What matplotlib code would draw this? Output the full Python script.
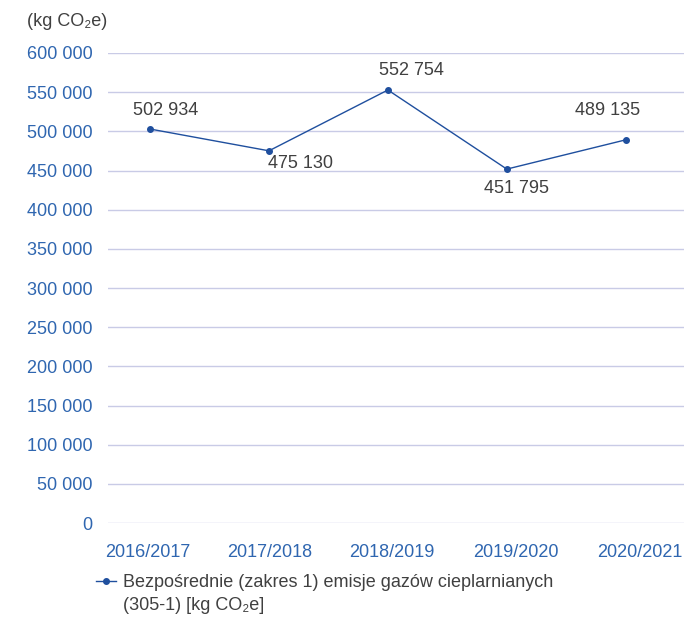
import matplotlib.pyplot as plt
import matplotlib.transforms as mtransforms
from matplotlib.ticker import FuncFormatter

plt.rcParams['font.family'] = ['Liberation Sans', 'DejaVu Sans']

# Dane
lata = ['2016/2017', '2017/2018', '2018/2019', '2019/2020', '2020/2021']
emisje = [502934, 475130, 552754, 451795, 489135]
y_ticks = list(range(0, 600001, 50000))
seria_1 = 'Bezpośrednie (zakres 1) emisje gazów cieplarnianych'
seria_2 = '(305-1) [kg CO₂e]'

niebieski = '#2f66b0'
tekst = '#404040'

fig = plt.figure(figsize=(6.84, 6.19), dpi=100)
ax = fig.add_axes([0.158, 0.155, 0.842, 0.7594])

x = list(range(len(lata)))
ax.plot(x, emisje, color='#1f4f9e', lw=1.0, marker='o', ms=4, label=seria_1)

# Etykiety wartości
offsety = [(16, 19), (32, -13), (24, 20), (10, -19), (-18, 29)]
for xi, v, off in zip(x, emisje, offsety):
    ax.annotate(f'{v:,}'.replace(',', ' '), (xi, v), xytext=off,
                textcoords='offset pixels', ha='center', va='center',
                fontsize=13, color=tekst)

ax.set_xlim(-0.353, 4.49)
ax.set_ylim(0, 600000)
ax.set_yticks(y_ticks)
ax.yaxis.set_major_formatter(FuncFormatter(lambda v, p: f'{int(v):,}'.replace(',', ' ')))
ax.set_xticks(x)
ax.set_xticklabels(lata)

ax.grid(axis='y', color='#c9cbe6', lw=1.0)
ax.set_axisbelow(True)
for s in ax.spines.values():
    s.set_visible(False)
ax.tick_params(axis='both', length=0, labelsize=13, labelcolor=niebieski)
ax.tick_params(axis='y', pad=11)
ax.tick_params(axis='x', pad=15)
# lekkie przesunięcie podpisów osi X jak w oryginale
for lbl, dx in zip(ax.get_xticklabels(), [-2, 1, 4, 9, 14]):
    lbl.set_transform(lbl.get_transform() +
                      mtransforms.ScaledTranslation(dx / 100, 0, fig.dpi_scale_trans))

fig.text(27 / 684, 1 - 22 / 619, '(kg CO₂e)', fontsize=13, color=tekst,
         va='center', ha='left')

leg = ax.legend(loc='upper left', bbox_to_anchor=(-0.036, -0.09), frameon=False,
                fontsize=13, handlelength=1.1, handletextpad=0.35, borderpad=0)
for t in leg.get_texts():
    t.set_color(tekst)
# druga linia opisu serii
fig.text(123 / 684, 1 - 606 / 619, seria_2, fontsize=13, color=tekst,
         va='center', ha='left')

fig.savefig('out.png', dpi=100)
